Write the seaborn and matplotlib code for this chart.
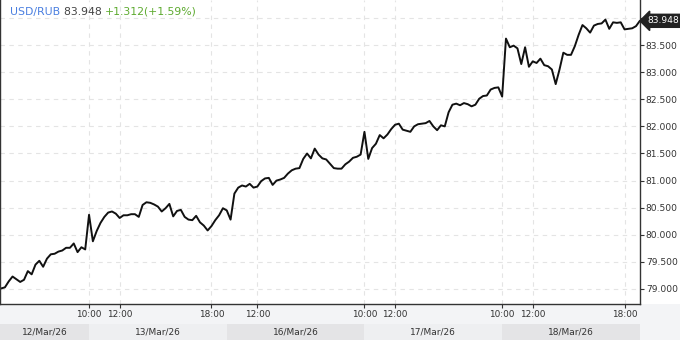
import numpy as np
import pandas as pd
import matplotlib
matplotlib.use("Agg")
import matplotlib.pyplot as plt
import matplotlib.transforms as mtransforms
import seaborn as sns

# ---------------- data ----------------
symbol = "USD/RUB"
last_price = 83.948
change = 1.312
change_pct = 1.59

days = ["12/Mar/26", "13/Mar/26", "16/Mar/26", "17/Mar/26", "18/Mar/26"]
day_starts = ["13:15", "10:00", "10:00", "10:00", "10:00"]

prices_12 = [79.01, 79.03, 79.14, 79.23, 79.18, 79.13, 79.17, 79.33, 79.27, 79.45,
             79.52, 79.41, 79.56, 79.64, 79.65, 79.69, 79.71, 79.76, 79.76, 79.84,
             79.68, 79.77, 79.73]
prices_13 = [80.37, 79.88, 80.07, 80.22, 80.33, 80.41, 80.43, 80.39, 80.31, 80.36,
             80.36, 80.38, 80.38, 80.33, 80.55, 80.60, 80.59, 80.56, 80.52, 80.43,
             80.49, 80.57, 80.34, 80.44, 80.46, 80.33, 80.28, 80.27, 80.35, 80.23,
             80.17, 80.08, 80.16, 80.27, 80.36, 80.49]
prices_16 = [80.45, 80.28, 80.76, 80.87, 80.91, 80.89, 80.94, 80.87, 80.89, 80.99,
             81.04, 81.05, 80.92, 81.00, 81.02, 81.05, 81.13, 81.19, 81.22, 81.23,
             81.40, 81.50, 81.41, 81.59, 81.48, 81.41, 81.39, 81.31, 81.23, 81.22,
             81.22, 81.30, 81.35, 81.42, 81.44, 81.48]
prices_17 = [81.90, 81.40, 81.60, 81.68, 81.84, 81.78, 81.85, 81.95, 82.03, 82.05,
             81.94, 81.92, 81.90, 82.00, 82.04, 82.05, 82.06, 82.10, 82.00, 81.93,
             82.02, 82.00, 82.26, 82.40, 82.42, 82.39, 82.43, 82.41, 82.37, 82.40,
             82.51, 82.56, 82.57, 82.68, 82.71, 82.72]
prices_18 = [82.55, 83.62, 83.46, 83.49, 83.44, 83.15, 83.46, 83.10, 83.20, 83.17,
             83.25, 83.13, 83.11, 83.05, 82.78, 83.05, 83.36, 83.32, 83.32, 83.48,
             83.69, 83.87, 83.81, 83.73, 83.86, 83.89, 83.90, 83.97, 83.80, 83.92,
             83.91, 83.92, 83.79, 83.80, 83.81, 83.85, 83.948]

tick_days = [1, 1, 1, 2, 3, 3, 4, 4, 4]
tick_labels = ["10:00", "12:00", "18:00", "12:00", "10:00", "12:00", "10:00", "12:00", "18:00"]
y_ticks = [79.0, 79.5, 80.0, 80.5, 81.0, 81.5, 82.0, 82.5, 83.0, 83.5, 84.0]

SESSION_OPEN, SESSION_LEN = 10, 9   # trading hours 10:00-19:00


def to_pos(day_idx, hours):
    # compressed trading-time axis: 13/Mar 10:00 == 0
    return (day_idx - 1) * SESSION_LEN + (np.asarray(hours) - SESSION_OPEN)


rows = []
for i, (d, start, pr) in enumerate(zip(days, day_starts,
                                       [prices_12, prices_13, prices_16, prices_17, prices_18])):
    t = pd.date_range(f"2026-01-01 {start}", periods=len(pr), freq="15min")
    h = t.hour + t.minute / 60
    for hh, p in zip(to_pos(i, h), pr):
        rows.append({"day": d, "pos": hh, "price": p})
df = pd.DataFrame(rows)

# ---------------- figure ----------------
sns.set_theme(style="white")
plt.rcParams["font.family"] = ["DejaVu Sans"]

W, H = 680, 340
fig = plt.figure(figsize=(W / 100, H / 100), dpi=100, facecolor="white")

# bottom light strip (behind everything)
strip = fig.add_axes([0, 0, 1, 36 / H], zorder=-5)
strip.set_facecolor("#f3f4f6")
strip.set_xticks([])
strip.set_yticks([])
for s in strip.spines.values():
    s.set_visible(False)

ax = fig.add_axes([0, 36 / H, 640 / W, 304 / H], zorder=1)
ax.set_facecolor("white")
sns.lineplot(data=df, x="pos", y="price", ax=ax, color="#111111", lw=1.4,
             estimator=None, sort=False, legend=False)

xmin, xmax = -5.82, 36.01
ax.set_xlim(xmin, xmax)
ax.set_ylim(78.723, 84.332)

tick_pos = [float(to_pos(d, int(l[:2]))) for d, l in zip(tick_days, tick_labels)]
ax.set_xticks(tick_pos)
ax.set_xticklabels(tick_labels)
ax.set_yticks(y_ticks)
# the top label (84.000) is hidden under the last-price marker, as in the reference
ax.set_yticklabels([f"{v:.3f}" if v < 84 else "" for v in y_ticks])
ax.yaxis.tick_right()
ax.set_xlabel("")
ax.set_ylabel("")

ax.tick_params(axis="x", direction="out", length=3, width=0.8, color="#333333",
               labelsize=6.4, labelcolor="#333333", pad=1.5, bottom=True)
ax.tick_params(axis="y", direction="out", length=3, width=0.8, color="#333333",
               labelsize=6.6, labelcolor="#333333", pad=1.2, right=True, left=False)

ax.grid(True, color="#e4e4e4", lw=0.8, ls=(0, (4, 4)))
for s in ["left", "bottom", "right"]:
    ax.spines[s].set_visible(True)
    ax.spines[s].set_color("#333333")
    ax.spines[s].set_linewidth(1.0)
ax.spines["top"].set_visible(False)

# last value marker on the right axis
trans = mtransforms.blended_transform_factory(ax.transAxes, ax.transData)
ax.text(647 / 640, last_price, f"{last_price:.3f}", transform=trans, ha="left",
        va="center", fontsize=6.6, color="white", clip_on=False, zorder=20,
        bbox=dict(boxstyle="larrow,pad=0.22", fc="#222222", ec="#222222"))

# date band
bax = fig.add_axes([0, 0, 640 / W, 16 / H], zorder=2)
bax.set_xlim(xmin, xmax)
bax.set_ylim(0, 1)
bax.axis("off")
bounds = [xmin, 0, 9, 18, 27, 36.01]
band_cols = ["#e4e4e6", "#eeeff1", "#e4e4e6", "#eeeff1", "#e4e4e6"]
for i, d in enumerate(days):
    bax.axvspan(bounds[i], bounds[i + 1], color=band_cols[i], lw=0)
    bax.text((bounds[i] + bounds[i + 1]) / 2, 0.5, d, ha="center", va="center",
             fontsize=6.5, color="#333333")

# title
fig.canvas.draw()
r = fig.canvas.get_renderer()
x0 = 10 / W
ybase = 1 - 15 / H
parts = [(symbol + " ", "#4a7fe0"), (f"{last_price:.3f} ", "#444444"),
         (f"+{change:.3f}(+{change_pct:.2f}%)", "#5daa2f")]
for txt, col in parts:
    t = fig.text(x0, ybase, txt, fontsize=7.8, color=col, ha="left", va="baseline",
                 zorder=10)
    bb = t.get_window_extent(renderer=r)
    x0 += bb.width / W

fig.savefig("out.png", dpi=100, facecolor=fig.get_facecolor())
